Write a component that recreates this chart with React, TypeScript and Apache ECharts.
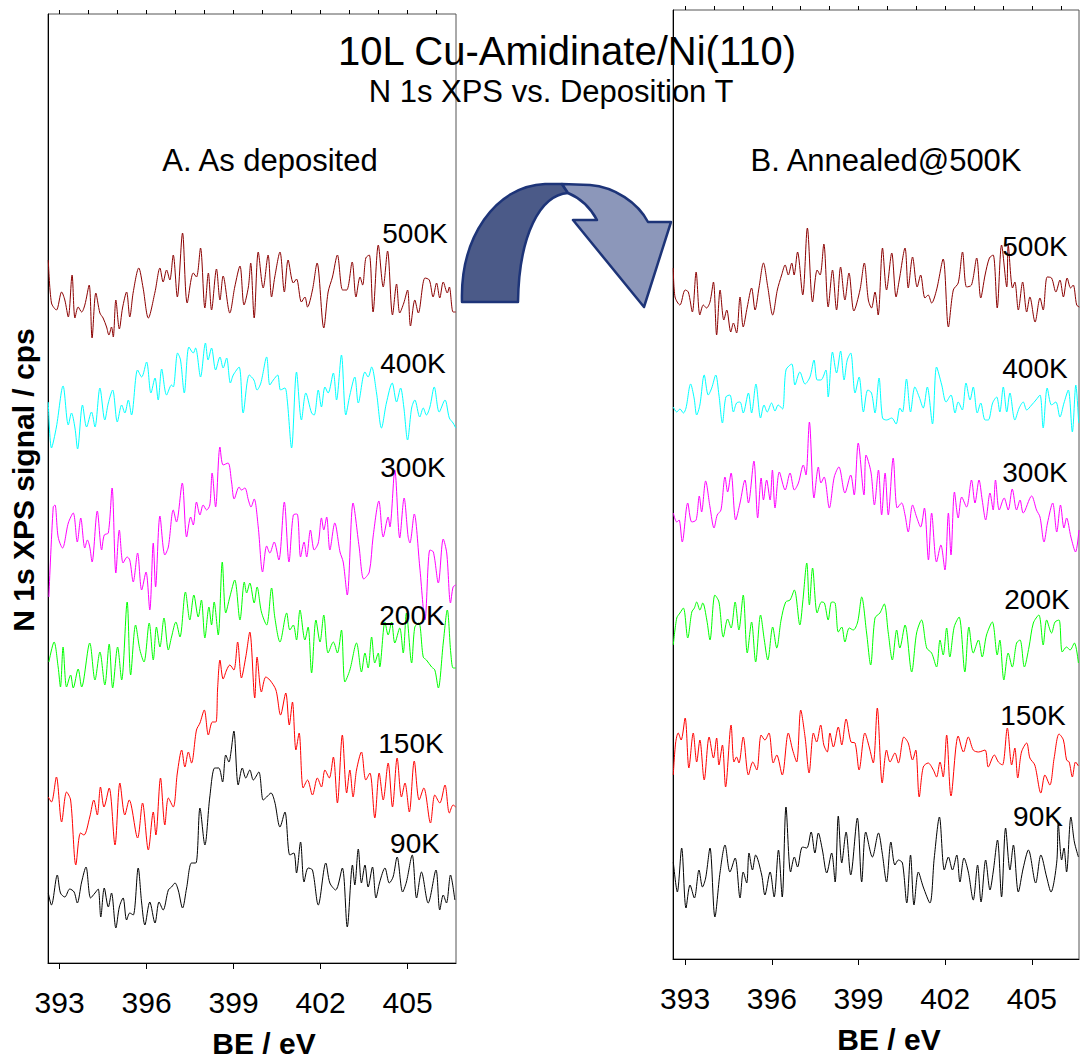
import React, { useEffect, useRef } from "react";
import * as echarts from "echarts";

// ---------- data: binding energy (eV), intensity (arb. cps, stacked) ----------
const majorTicks = [393, 396, 399, 402, 405];
const minorTicks = [393, 394, 395, 396, 397, 398, 399, 400, 401, 402, 403, 404, 405, 406];

const tempLabels = ["500K", "400K", "300K", "200K", "150K", "90K"];
const traceColors = ["#8b0000", "#00ffff", "#ff00ff", "#00ff00", "#ff0000", "#000000"];

// A. As deposited
const asDep500: [number, number][] = [[392.61,703],[392.72,660],[392.89,653],[393.07,671],[393.18,663],[393.30,646],[393.43,688],[393.53,645],[393.64,656],[393.76,651],[393.87,658],[394.02,678],[394.12,625],[394.25,670],[394.39,650],[394.50,645],[394.62,636],[394.70,628],[394.79,636],[394.85,626],[394.94,663],[395.06,634],[395.17,655],[395.31,671],[395.42,646],[395.54,671],[395.73,695],[395.88,675],[396.06,645],[396.29,671],[396.46,695],[396.57,681],[396.69,693],[396.80,683],[396.92,708],[397.06,666],[397.24,730],[397.40,660],[397.61,690],[397.72,686],[397.86,715],[398.01,655],[398.13,690],[398.24,653],[398.41,694],[398.53,663],[398.64,687],[398.87,650],[399.04,676],[399.22,697],[399.36,658],[399.51,676],[399.59,700],[399.71,645],[399.85,711],[400.02,675],[400.19,708],[400.31,666],[400.42,686],[400.60,711],[400.75,671],[400.88,703],[401.06,680],[401.17,684],[401.34,661],[401.46,666],[401.55,656],[401.72,673],[401.88,700],[402.11,635],[402.26,671],[402.41,686],[402.58,708],[402.76,673],[402.90,673],[403.09,701],[403.22,666],[403.36,686],[403.45,678],[403.56,705],[403.68,708],[403.81,651],[403.99,718],[404.16,676],[404.31,712],[404.48,648],[404.62,679],[404.73,650],[404.87,660],[405.00,673],[405.10,637],[405.25,663],[405.37,650],[405.60,685],[405.75,683],[405.88,666],[406.00,680],[406.11,665],[406.23,681],[406.37,670],[406.44,676],[406.57,651],[406.66,651]];
const asDep400: [number, number][] = [[392.61,561],[392.72,515],[392.89,536],[393.12,577],[393.30,538],[393.41,550],[393.53,535],[393.62,514],[393.79,558],[393.93,536],[394.10,551],[394.22,536],[394.39,575],[394.56,543],[394.68,560],[394.83,573],[394.99,541],[395.14,558],[395.25,550],[395.37,563],[395.48,548],[395.69,593],[395.83,586],[396.00,601],[396.15,570],[396.29,585],[396.40,563],[396.52,594],[396.69,568],[396.86,578],[396.92,576],[397.07,610],[397.17,603],[397.30,570],[397.46,616],[397.61,610],[397.69,615],[397.86,586],[398.03,620],[398.12,603],[398.24,615],[398.38,593],[398.53,606],[398.64,595],[398.76,605],[398.89,580],[398.99,588],[399.19,596],[399.33,550],[399.54,588],[399.70,583],[399.81,573],[399.94,580],[400.14,606],[400.25,578],[400.37,583],[400.52,588],[400.62,573],[400.77,575],[400.85,563],[401.00,515],[401.17,591],[401.34,543],[401.49,570],[401.69,550],[401.78,548],[401.92,573],[402.03,556],[402.15,576],[402.26,570],[402.44,590],[402.55,563],[402.72,608],[402.87,548],[403.01,568],[403.18,586],[403.30,560],[403.53,591],[403.64,586],[403.76,596],[403.93,570],[404.10,535],[404.27,560],[404.47,580],[404.62,561],[404.76,575],[404.87,556],[405.00,523],[405.14,555],[405.25,563],[405.42,546],[405.54,555],[405.65,548],[405.77,556],[405.92,576],[406.09,551],[406.29,563],[406.44,545],[406.57,540],[406.66,535]];
const asDep300: [number, number][] = [[392.63,366],[392.78,456],[392.84,458],[392.95,426],[393.10,415],[393.30,440],[393.47,450],[393.61,421],[393.73,445],[393.87,415],[393.96,423],[394.04,416],[394.12,401],[394.30,452],[394.45,413],[394.54,428],[394.68,430],[394.81,475],[394.94,390],[395.06,433],[395.19,400],[395.33,406],[395.42,403],[395.54,381],[395.69,410],[395.83,373],[395.98,391],[396.11,353],[396.23,420],[396.31,376],[396.46,447],[396.63,408],[396.75,416],[396.92,453],[397.03,441],[397.23,480],[397.38,426],[397.52,446],[397.61,438],[397.72,461],[397.84,448],[397.95,458],[398.07,453],[398.18,458],[398.26,490],[398.38,456],[398.53,516],[398.64,498],[398.81,500],[398.93,481],[399.02,464],[399.19,476],[399.27,473],[399.39,475],[399.51,463],[399.60,456],[399.71,464],[399.85,436],[400.00,391],[400.14,417],[400.25,410],[400.40,421],[400.56,403],[400.75,461],[400.91,401],[401.06,448],[401.19,449],[401.31,406],[401.43,421],[401.52,406],[401.65,433],[401.78,413],[401.92,420],[402.03,445],[402.11,433],[402.21,446],[402.32,413],[402.49,440],[402.67,411],[402.78,401],[402.92,368],[403.12,460],[403.33,416],[403.49,384],[403.68,391],[403.81,426],[404.01,462],[404.16,426],[404.33,446],[404.39,436],[404.56,493],[404.73,425],[404.88,465],[405.02,426],[405.08,420],[405.23,449],[405.42,396],[405.60,343],[405.77,413],[405.89,411],[406.06,380],[406.23,424],[406.35,410],[406.48,360],[406.57,376],[406.66,378]];
const asDep200: [number, number][] = [[392.63,301],[392.81,321],[392.95,296],[393.03,276],[393.12,316],[393.24,276],[393.38,288],[393.47,275],[393.64,294],[393.76,276],[394.04,320],[394.22,283],[394.39,311],[394.56,278],[394.71,319],[394.83,275],[395.00,316],[395.14,283],[395.33,361],[395.45,288],[395.62,338],[395.77,313],[395.91,301],[396.09,340],[396.23,303],[396.34,336],[396.46,316],[396.60,345],[396.75,313],[396.86,326],[397.01,341],[397.15,326],[397.34,371],[397.49,343],[397.63,368],[397.78,346],[397.89,363],[398.01,325],[398.15,356],[398.24,338],[398.33,361],[398.47,328],[398.61,401],[398.73,350],[398.87,366],[399.04,383],[399.22,343],[399.37,381],[399.45,370],[399.56,380],[399.71,360],[399.81,376],[399.96,351],[400.14,338],[400.31,375],[400.42,346],[400.60,321],[400.83,350],[400.94,333],[401.06,338],[401.17,323],[401.29,353],[401.46,323],[401.57,336],[401.69,290],[401.84,343],[401.98,321],[402.11,348],[402.26,310],[402.44,321],[402.58,310],[402.72,333],[402.84,281],[403.01,293],[403.24,320],[403.41,291],[403.53,310],[403.64,295],[403.76,326],[403.87,300],[403.99,310],[404.04,296],[404.22,341],[404.33,328],[404.45,341],[404.56,320],[404.73,335],[404.85,310],[404.96,350],[405.14,300],[405.25,336],[405.39,340],[405.54,306],[405.65,303],[405.83,296],[405.94,293],[406.06,275],[406.23,320],[406.37,353],[406.49,310],[406.57,295],[406.66,295]];
const asDep150: [number, number][] = [[392.61,166],[392.72,161],[392.89,186],[393.07,141],[393.24,171],[393.38,163],[393.56,98],[393.72,130],[393.84,128],[394.04,146],[394.18,163],[394.30,148],[394.41,176],[394.53,156],[394.71,175],[394.91,118],[395.08,180],[395.25,148],[395.40,163],[395.69,125],[395.86,160],[396.06,113],[396.23,151],[396.32,128],[396.48,185],[396.63,138],[396.75,165],[396.92,156],[397.06,190],[397.21,213],[397.32,196],[397.44,211],[397.55,200],[397.72,233],[397.84,240],[397.99,253],[398.13,228],[398.27,241],[398.39,241],[398.45,275],[398.53,303],[398.64,284],[398.76,293],[398.87,298],[399.01,293],[399.14,321],[399.27,285],[399.42,306],[399.56,331],[399.73,265],[399.81,306],[399.96,271],[400.11,286],[400.25,283],[400.46,273],[400.62,248],[400.80,270],[400.92,238],[401.03,261],[401.15,213],[401.26,230],[401.40,175],[401.55,183],[401.72,168],[401.89,185],[402.03,176],[402.15,193],[402.30,185],[402.44,206],[402.58,160],[402.75,228],[402.90,170],[403.01,193],[403.12,166],[403.24,193],[403.41,211],[403.56,183],[403.70,190],[403.87,145],[404.02,190],[404.16,163],[404.33,200],[404.48,156],[404.64,205],[404.79,166],[404.91,180],[405.06,151],[405.23,202],[405.40,163],[405.56,175],[405.79,140],[405.94,168],[406.11,160],[406.29,178],[406.44,150],[406.57,158],[406.66,156]];
const asDep90: [number, number][] = [[392.61,70],[392.72,58],[392.92,88],[393.03,70],[393.18,66],[393.35,74],[393.50,71],[393.61,60],[393.76,81],[393.91,96],[394.07,65],[394.22,70],[394.33,74],[394.42,46],[394.54,75],[394.68,56],[394.79,70],[394.94,35],[395.06,56],[395.19,65],[395.31,43],[395.42,50],[395.54,48],[395.71,95],[395.83,60],[395.94,38],[396.11,61],[396.29,40],[396.43,61],[396.57,53],[396.75,73],[396.86,76],[396.98,80],[397.09,73],[397.24,55],[397.38,75],[397.55,100],[397.70,100],[397.84,155],[398.01,118],[398.18,166],[398.35,195],[398.49,195],[398.62,181],[398.73,208],[398.84,201],[398.91,211],[399.01,232],[399.16,178],[399.30,195],[399.42,185],[399.56,193],[399.68,183],[399.87,191],[400.02,163],[400.14,166],[400.29,170],[400.42,161],[400.60,136],[400.77,151],[400.94,108],[401.08,110],[401.17,90],[401.31,121],[401.43,81],[401.57,95],[401.72,93],[401.92,58],[402.18,100],[402.32,80],[402.52,73],[402.75,95],[402.92,36],[403.10,98],[403.18,78],[403.30,114],[403.41,80],[403.53,98],[403.64,76],[403.79,96],[403.91,65],[404.04,81],[404.22,95],[404.37,80],[404.50,86],[404.64,106],[404.83,71],[404.96,81],[405.16,108],[405.31,65],[405.48,91],[405.71,60],[405.98,93],[406.11,53],[406.23,68],[406.34,60],[406.48,88],[406.63,63]];

// B. Annealed @ 500K
const ann500: [number, number][] = [[392.59,691],[392.65,662],[392.82,654],[393.00,669],[393.11,667],[393.25,647],[393.38,687],[393.51,644],[393.63,654],[393.74,651],[393.86,657],[393.98,677],[394.09,624],[394.21,669],[394.34,639],[394.44,649],[394.58,627],[394.67,636],[394.78,626],[394.90,662],[395.01,632],[395.15,652],[395.30,671],[395.42,649],[395.56,672],[395.71,696],[395.86,672],[396.03,644],[396.19,669],[396.34,684],[396.46,694],[396.57,684],[396.69,696],[396.77,684],[396.89,707],[397.07,664],[397.23,731],[397.41,657],[397.57,689],[397.67,684],[397.80,715],[397.95,652],[398.10,689],[398.24,649],[398.38,692],[398.53,659],[398.67,686],[398.84,648],[399.05,669],[399.20,696],[399.34,659],[399.45,651],[399.57,667],[399.68,644],[399.83,711],[399.97,669],[400.15,706],[400.30,662],[400.41,679],[400.61,711],[400.72,671],[400.87,702],[401.03,672],[401.15,684],[401.30,661],[401.41,664],[401.53,656],[401.70,669],[401.93,700],[402.11,632],[402.28,669],[402.45,676],[402.60,707],[402.74,672],[402.91,674],[403.09,701],[403.23,661],[403.38,684],[403.53,701],[403.66,704],[403.80,651],[403.95,714],[404.13,672],[404.18,714],[404.33,671],[404.41,677],[404.53,649],[404.68,677],[404.82,647],[404.93,662],[405.11,637],[405.28,661],[405.39,649],[405.53,682],[405.68,681],[405.83,667],[405.97,679],[406.09,662],[406.22,681],[406.34,671],[406.43,674],[406.55,654],[406.64,652]];
const ann400: [number, number][] = [[392.59,552],[392.71,547],[392.82,550],[392.94,546],[393.03,551],[393.19,575],[393.31,561],[393.40,544],[393.51,554],[393.66,584],[393.80,564],[393.92,571],[394.06,584],[394.17,564],[394.29,536],[394.41,562],[394.55,564],[394.67,547],[394.78,556],[394.90,557],[395.01,546],[395.19,566],[395.30,546],[395.45,575],[395.61,541],[395.73,554],[395.84,547],[395.99,556],[396.11,548],[396.22,554],[396.37,550],[396.49,589],[396.69,595],[396.80,574],[396.97,587],[397.15,575],[397.32,582],[397.46,599],[397.57,579],[397.70,579],[397.87,589],[397.95,562],[398.10,607],[398.24,586],[398.38,608],[398.50,579],[398.61,599],[398.73,606],[398.88,566],[399.02,582],[399.17,547],[399.32,569],[399.45,566],[399.57,546],[399.71,581],[399.83,541],[399.97,539],[400.15,541],[400.30,535],[400.43,551],[400.52,547],[400.66,580],[400.80,547],[400.95,572],[401.10,562],[401.24,551],[401.38,572],[401.56,535],[401.70,592],[401.88,574],[402.03,557],[402.20,564],[402.34,546],[402.45,557],[402.59,549],[402.72,576],[402.86,559],[402.97,572],[403.11,546],[403.23,556],[403.38,539],[403.49,539],[403.64,556],[403.78,562],[403.89,547],[404.01,572],[404.13,547],[404.24,566],[404.41,539],[404.56,551],[404.70,557],[404.82,549],[404.99,554],[405.14,559],[405.28,564],[405.39,531],[405.53,571],[405.68,554],[405.83,557],[405.97,542],[406.11,556],[406.26,569],[406.40,527],[406.52,574],[406.62,536]];
const ann300: [number, number][] = [[392.59,446],[392.71,437],[392.79,439],[392.90,417],[393.09,456],[393.23,437],[393.38,439],[393.49,463],[393.57,447],[393.71,478],[393.86,452],[394.00,431],[394.11,444],[394.24,449],[394.38,482],[394.47,467],[394.59,486],[394.75,439],[394.90,456],[395.07,479],[395.19,456],[395.38,498],[395.51,441],[395.63,481],[395.71,459],[395.82,479],[395.94,459],[396.02,489],[396.11,451],[396.26,487],[396.46,469],[396.63,486],[396.78,469],[396.92,476],[397.09,494],[397.18,484],[397.30,537],[397.46,461],[397.61,492],[397.70,476],[397.81,482],[397.99,451],[398.16,482],[398.32,492],[398.53,466],[398.73,484],[398.85,464],[398.99,516],[399.19,464],[399.26,504],[399.43,487],[399.55,454],[399.69,489],[399.80,444],[399.92,486],[400.03,444],[400.20,501],[400.34,451],[400.49,456],[400.61,444],[400.72,427],[400.87,454],[401.01,442],[401.15,432],[401.28,451],[401.42,399],[401.53,446],[401.70,397],[401.85,414],[401.99,389],[402.11,446],[402.20,404],[402.32,467],[402.45,441],[402.57,462],[402.74,452],[402.91,479],[403.03,456],[403.17,479],[403.28,459],[403.40,439],[403.55,466],[403.66,449],[403.74,479],[403.87,449],[404.04,461],[404.18,449],[404.32,470],[404.47,449],[404.59,459],[404.70,446],[404.99,463],[405.16,449],[405.28,442],[405.42,417],[405.54,436],[405.72,456],[405.86,427],[405.99,454],[406.11,431],[406.20,441],[406.35,422],[406.51,407],[406.63,429]];
const ann200: [number, number][] = [[392.59,314],[392.71,341],[392.82,346],[392.94,351],[393.09,321],[393.23,347],[393.32,351],[393.40,357],[393.51,349],[393.61,356],[393.75,339],[393.86,319],[394.03,364],[394.17,357],[394.32,322],[394.47,340],[394.59,331],[394.73,357],[394.86,329],[395.01,364],[395.15,306],[395.30,337],[395.44,297],[395.61,344],[395.74,319],[395.86,299],[396.03,332],[396.17,311],[396.32,339],[396.48,357],[396.63,359],[396.78,369],[396.97,334],[397.07,357],[397.21,396],[397.30,354],[397.41,391],[397.57,346],[397.72,357],[397.82,356],[397.95,339],[398.07,357],[398.19,356],[398.30,327],[398.42,332],[398.53,317],[398.68,331],[398.82,329],[398.97,337],[399.11,362],[399.28,326],[399.42,294],[399.57,341],[399.74,346],[399.89,355],[400.03,326],[400.17,299],[400.32,329],[400.43,311],[400.61,334],[400.84,287],[401.01,326],[401.18,339],[401.36,311],[401.53,306],[401.70,292],[401.82,319],[401.93,304],[402.05,331],[402.16,302],[402.31,332],[402.48,342],[402.68,287],[402.82,332],[402.97,306],[403.15,319],[403.28,302],[403.43,324],[403.63,337],[403.80,304],[403.89,319],[404.03,279],[404.18,306],[404.32,292],[404.47,316],[404.59,319],[404.74,292],[404.90,312],[405.05,336],[405.24,344],[405.39,314],[405.51,339],[405.68,326],[405.80,337],[405.94,339],[406.05,307],[406.20,312],[406.32,309],[406.47,316],[406.61,296]];
const ann150: [number, number][] = [[392.59,184],[392.67,216],[392.76,226],[392.86,219],[393.00,241],[393.13,191],[393.28,226],[393.40,197],[393.51,219],[393.66,179],[393.83,222],[393.98,201],[394.09,221],[394.17,194],[394.29,214],[394.40,172],[394.59,234],[394.69,197],[394.78,202],[394.86,196],[395.01,222],[395.19,184],[395.34,197],[395.48,189],[395.63,224],[395.76,219],[395.90,226],[396.05,196],[396.17,204],[396.36,184],[396.57,226],[396.72,209],[396.86,197],[397.00,249],[397.15,222],[397.29,186],[397.44,226],[397.55,217],[397.69,234],[397.80,214],[397.92,207],[398.01,226],[398.13,212],[398.30,232],[398.42,214],[398.57,240],[398.74,217],[398.88,216],[399.02,189],[399.22,226],[399.37,212],[399.51,196],[399.65,251],[399.82,176],[399.97,209],[400.09,197],[400.26,206],[400.38,196],[400.57,222],[400.72,216],[400.87,199],[400.98,209],[401.10,162],[401.24,192],[401.41,196],[401.59,189],[401.70,182],[401.82,197],[401.93,182],[402.05,224],[402.20,163],[402.45,223],[402.63,207],[402.80,222],[402.97,209],[403.15,207],[403.38,209],[403.49,192],[403.70,204],[403.84,197],[403.98,194],[404.15,231],[404.30,194],[404.41,211],[404.51,181],[404.64,207],[404.82,216],[404.93,201],[405.10,194],[405.31,166],[405.45,184],[405.62,174],[405.77,201],[405.94,225],[406.09,219],[406.20,199],[406.29,197],[406.40,182],[406.51,197],[406.61,193]];
const ann90: [number, number][] = [[392.59,97],[392.73,67],[392.88,111],[393.03,51],[393.17,74],[393.32,61],[393.48,89],[393.60,72],[393.71,81],[393.86,111],[394.03,42],[394.21,87],[394.38,114],[394.55,87],[394.73,101],[394.90,61],[395.01,87],[395.13,76],[395.21,106],[395.33,89],[395.44,104],[395.65,84],[395.76,64],[395.94,87],[396.08,62],[396.23,109],[396.36,62],[396.49,152],[396.65,87],[396.78,102],[396.89,92],[397.06,112],[397.21,111],[397.36,127],[397.49,106],[397.61,126],[397.75,109],[397.90,86],[398.07,106],[398.19,77],[398.30,143],[398.42,96],[398.57,127],[398.73,84],[398.96,141],[399.11,77],[399.25,127],[399.48,102],[399.69,126],[399.82,106],[399.97,77],[400.12,117],[400.26,94],[400.38,99],[400.52,96],[400.67,56],[400.80,104],[400.92,54],[401.07,87],[401.24,72],[401.47,56],[401.62,101],[401.80,142],[401.97,89],[402.11,102],[402.25,89],[402.40,104],[402.51,77],[402.65,101],[402.80,87],[402.97,59],[403.12,94],[403.24,57],[403.40,99],[403.55,69],[403.66,87],[403.81,119],[403.95,62],[404.09,131],[404.24,89],[404.36,114],[404.53,67],[404.70,91],[404.88,109],[405.13,76],[405.31,104],[405.51,82],[405.66,67],[405.86,97],[405.91,136],[406.03,99],[406.11,111],[406.20,87],[406.35,142],[406.47,117],[406.61,102]];

const asDepTraces = [asDep500, asDep400, asDep300, asDep200, asDep150, asDep90];
const annTraces = [ann500, ann400, ann300, ann200, ann150, ann90];

// ---------- arrow shapes ----------
const darkArrowPath =
  "M462 302 C460 238 495 186 545 184 L562 184 L568 193 C540 195 519 235 518 302 Z";
const lightArrowPath =
  "M562 184 L590 185 C615 187 638 203 648 222 L671 222 L644 307 L573 220 L597 220 C590 207 580 198 568 193 Z";

let shapesRegistered = false;
function registerShapes() {
  if (shapesRegistered) return;
  echarts.graphic.registerShape("arrowDark", echarts.graphic.extendPath(darkArrowPath, {}));
  echarts.graphic.registerShape("arrowLight", echarts.graphic.extendPath(lightArrowPath, {}));
  shapesRegistered = true;
}

const FONT = "Arial, 'Liberation Sans', Helvetica, sans-serif";

function txt(text: string, x: number, y: number, size: number, opts: any = {}) {
  return {
    type: "text",
    x,
    y,
    rotation: opts.rotation || 0,
    z: 100,
    style: {
      text,
      fontSize: size,
      fontFamily: FONT,
      fontWeight: opts.bold ? "bold" : "normal",
      fill: "#000",
      textAlign: "center",
      textVerticalAlign: "middle",
      align: "center",
      verticalAlign: "middle",
    },
  };
}

export default function App() {
  const ref = useRef<HTMLDivElement>(null);

  useEffect(() => {
    if (!ref.current) return;
    registerShapes();
    const chart = echarts.init(ref.current, null, { renderer: "svg" });

    const panels = [
      { left: 48, top: 14, width: 408, height: 949, min: 392.6, max: 406.67 },
      { left: 673, top: 10, width: 406, height: 949, min: 392.58, max: 406.63 },
    ];

    const grids = panels.map((p) => ({
      left: p.left,
      top: p.top,
      width: p.width,
      height: p.height,
      show: true,
      borderColor: "#555",
      borderWidth: 1,
      containLabel: false,
    }));

    const xAxes: any[] = [];
    panels.forEach((p, i) => {
      xAxes.push({
        type: "value",
        gridIndex: i,
        min: p.min,
        max: p.max,
        axisLine: { show: true, lineStyle: { color: "#000", width: 1 } },
        axisTick: { show: true, customValues: majorTicks, length: 6, lineStyle: { color: "#000" } },
        axisLabel: {
          show: true,
          customValues: majorTicks,
          fontSize: 30,
          fontFamily: FONT,
          color: "#000",
          margin: 24,
        },
        splitLine: { show: false },
      });
    });
    panels.forEach((p, i) => {
      xAxes.push({
        type: "value",
        gridIndex: i,
        min: p.min,
        max: p.max,
        axisLine: { show: false },
        axisTick: { show: true, customValues: minorTicks, length: 4, lineStyle: { color: "#000" } },
        axisLabel: { show: false },
        splitLine: { show: false },
      });
    });

    const yAxes = panels.map((_, i) => ({
      type: "value",
      gridIndex: i,
      min: 0,
      max: 949,
      axisLine: { show: true, lineStyle: { color: "#000", width: 1 } },
      axisTick: { show: false },
      axisLabel: { show: false },
      splitLine: { show: false },
    }));

    const series: any[] = [];
    [asDepTraces, annTraces].forEach((traces, pi) => {
      traces.forEach((d, ti) => {
        series.push({
          type: "line",
          name: `${pi === 0 ? "As deposited" : "Annealed"} ${tempLabels[ti]}`,
          xAxisIndex: pi,
          yAxisIndex: pi,
          data: d,
          showSymbol: false,
          symbol: "none",
          smooth: 0.3,
          lineStyle: { color: traceColors[ti], width: 1 },
          itemStyle: { color: traceColors[ti] },
          clip: true,
        });
      });
    });

    const leftLabelPos = [
      [415, 233], [413, 363], [413, 467], [412, 615], [411, 743], [415, 843],
    ];
    const rightLabelPos = [
      [1035, 246], [1035, 368], [1035, 472], [1037, 599], [1033, 715], [1038, 816],
    ];

    const graphic: any[] = [
      txt("10L Cu-Amidinate/Ni(110)", 567, 51, 40),
      txt("N 1s XPS vs. Deposition T", 551, 91, 31),
      txt("A. As deposited", 270, 160, 31),
      txt("B. Annealed@500K", 886, 160, 31),
      txt("BE / eV", 264, 1043, 30, { bold: true }),
      txt("BE / eV", 889, 1039, 30, { bold: true }),
      txt("N 1s XPS signal / cps", 23, 480, 30, { bold: true, rotation: Math.PI / 2 }),
      ...tempLabels.map((t, i) => txt(t, leftLabelPos[i][0], leftLabelPos[i][1], 28)),
      ...tempLabels.map((t, i) => txt(t, rightLabelPos[i][0], rightLabelPos[i][1], 28)),
      {
        type: "arrowDark",
        x: 0,
        y: 0,
        z: 90,
        shape: {},
        style: { fill: "#4b5a88", stroke: "#1d3478", lineWidth: 2.5, lineJoin: "round" },
      },
      {
        type: "arrowLight",
        x: 0,
        y: 0,
        z: 90,
        shape: {},
        style: { fill: "#8c97ba", stroke: "#1d3478", lineWidth: 2.5, lineJoin: "round" },
      },
    ];

    chart.setOption({
      animation: false,
      backgroundColor: "#fff",
      textStyle: { fontFamily: FONT },
      grid: grids,
      xAxis: xAxes,
      yAxis: yAxes,
      series,
      graphic,
    });

    return () => chart.dispose();
  }, []);

  return (
    <div
      ref={ref}
      style={{ position: "absolute", left: 0, top: 0, width: 1082, height: 1059 }}
    />
  );
}
